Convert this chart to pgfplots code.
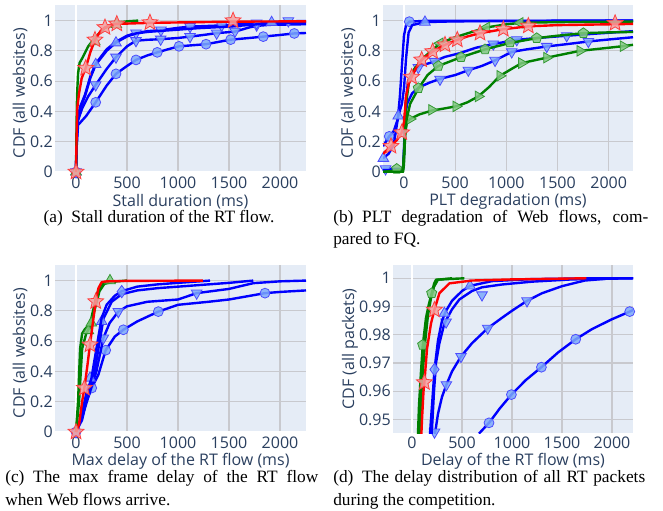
\documentclass[border=0pt]{standalone}
\usepackage{fontspec}
\setmainfont{Liberation Serif}
\newfontfamily\osans{Open Sans}
\usepackage{pgfplots}
\pgfplotsset{compat=1.18}
\usetikzlibrary{plotmarks}

\definecolor{plotbg}{RGB}{229,236,246}
\definecolor{gridc}{RGB}{200,201,206}
\definecolor{txt}{RGB}{42,63,95}
\definecolor{pblue}{RGB}{0,0,255}
\definecolor{pred}{RGB}{255,0,0}
\definecolor{pgreen}{RGB}{0,128,0}
\definecolor{bfill}{RGB}{125,170,250}
\definecolor{rfill}{RGB}{245,160,160}
\definecolor{gfill}{RGB}{130,200,130}

% filled five-point star
\pgfdeclareplotmark{pstar}{%
  \pgfpathmoveto{\pgfpointpolar{90}{1.3\pgfplotmarksize}}%
  \pgfpathlineto{\pgfpointpolar{126}{0.58\pgfplotmarksize}}%
  \pgfpathlineto{\pgfpointpolar{162}{1.3\pgfplotmarksize}}%
  \pgfpathlineto{\pgfpointpolar{198}{0.58\pgfplotmarksize}}%
  \pgfpathlineto{\pgfpointpolar{234}{1.3\pgfplotmarksize}}%
  \pgfpathlineto{\pgfpointpolar{270}{0.58\pgfplotmarksize}}%
  \pgfpathlineto{\pgfpointpolar{306}{1.3\pgfplotmarksize}}%
  \pgfpathlineto{\pgfpointpolar{342}{0.58\pgfplotmarksize}}%
  \pgfpathlineto{\pgfpointpolar{18}{1.3\pgfplotmarksize}}%
  \pgfpathlineto{\pgfpointpolar{54}{0.58\pgfplotmarksize}}%
  \pgfpathclose\pgfusepathqfillstroke}

\pgfplotsset{
  ply/.style={
    scale only axis, height=126pt,
    axis background/.style={fill=plotbg},
    axis line style={draw=none},
    tick style={draw=none},
    grid=major,
    major grid style={draw=gridc, line width=0.9pt},
    xtick={500,1000,1500,2000},
    extra x ticks={0},
    extra x tick style={grid=major, major grid style={draw=white, line width=1.6pt}},
    ticklabel style={font=\osans\fontsize{12}{12}\selectfont, text=txt},
    xticklabel style={anchor=north, inner sep=0pt, yshift=-3pt},
    yticklabel style={anchor=east, inner sep=0pt, xshift=-1.5pt},
    label style={font=\osans\fontsize{12}{14}\selectfont, text=txt},
    x label style={at={(axis description cs:0.5,-0.168)}, anchor=center},
    /pgf/number format/assume math mode=true,
    /pgf/number format/1000 sep={},
    clip mode=individual,
  },
  cdfy/.style={
    ymin=-0.007, ymax=1.103,
    ytick={0.2,0.4,0.6,0.8,1},
    extra y ticks={0},
    extra y tick style={grid=major, major grid style={draw=white, line width=1.6pt}},
  },
  lb/.style={color=pblue, line width=1.8pt, line join=round, no marks},
  lr/.style={color=pred, line width=1.8pt, line join=round, no marks},
  lg/.style={color=pgreen, line width=1.8pt, line join=round, no marks},
  mb/.style={only marks, draw=pblue!70!white, fill=bfill, fill opacity=0.85, line width=0.6pt},
  mr/.style={only marks, draw=pred!75!white, fill=rfill, fill opacity=0.85, line width=0.6pt, mark=pstar, mark size=4.8pt},
  mg/.style={only marks, draw=pgreen!80!white, fill=gfill, fill opacity=0.85, line width=0.6pt},
  circ/.style={mark=*, mark size=3.7pt},
  tup/.style={mark=triangle*, mark size=4.6pt},
  tdn/.style={mark=triangle*, mark size=4.6pt, mark options={rotate=180}},
  tlf/.style={mark=triangle*, mark size=4.6pt, mark options={rotate=90}},
  trt/.style={mark=triangle*, mark size=4.6pt, mark options={rotate=-90}},
  dia/.style={mark=diamond*, mark size=4.6pt},
  pent/.style={mark=pentagon*, mark size=4pt},
}

\begin{document}
\begin{tikzpicture}
\path[use as bounding box] (0,0) rectangle (497.25pt,382.5pt);

% (a) stall duration
\begin{axis}[ply, cdfy, at={(41.25pt,252.75pt)}, anchor=south west, width=188.25pt,
  xmin=-206, xmax=2255,
  xlabel={Stall duration (ms)}, ylabel={CDF (all websites)},
  y label style={at={(axis description cs:-0.139,0.476)}, anchor=center}]
\addplot[lb] coordinates {(0,0) (5,0.15) (20,0.31) (100,0.37) (193,0.46) (300,0.57) (392,0.648) (500,0.7) (588,0.74) (700,0.77) (797,0.79) (900,0.81) (1010,0.83) (1275,0.844) (1516,0.874) (1700,0.885) (1836,0.894) (2000,0.905) (2140,0.915) (2255,0.918)};
\addplot[mb, circ] coordinates {(0,0) (193,0.46) (392,0.648) (588,0.74) (797,0.79) (1010,0.83) (1275,0.844) (1516,0.874) (1836,0.894) (2140,0.915)};
\addplot[lb] coordinates {(0,0) (5,0.15) (15,0.33) (60,0.42) (120,0.5) (193,0.575) (300,0.68) (392,0.758) (500,0.83) (588,0.867) (700,0.873) (830,0.877) (1000,0.885) (1118,0.894) (1250,0.905) (1379,0.917) (1559,0.927) (1700,0.955) (1771,0.965) (1900,0.972) (2255,0.976)};
\addplot[mb, tdn] coordinates {(0,0) (193,0.575) (392,0.758) (588,0.867) (830,0.877) (1118,0.894) (1379,0.917) (1559,0.93) (1771,0.97)};
\addplot[lb] coordinates {(0,0) (5,0.2) (15,0.34) (40,0.43) (88,0.51) (140,0.63) (193,0.715) (300,0.81) (392,0.86) (500,0.9) (588,0.918) (700,0.93) (833,0.937) (1000,0.952) (1118,0.96) (1428,0.968) (1600,0.975) (1771,0.983) (1918,0.99) (2082,0.995) (2255,0.997)};
\addplot[mb, tdn] coordinates {(588,0.918) (833,0.937) (1118,0.96) (1428,0.968) (1771,0.983) (2082,0.998)};
\addplot[lb] coordinates {(0,0) (5,0.2) (15,0.33) (40,0.42) (88,0.5) (140,0.62) (193,0.708) (300,0.8) (392,0.855) (500,0.895) (588,0.915) (700,0.925) (833,0.932) (1000,0.94) (1200,0.95) (1500,0.96) (1770,0.975) (1918,0.985) (2255,0.987)};
\addplot[mb, tup] coordinates {(0,0) (193,0.71) (392,0.853) (1918,0.988)};
\addplot[lg] coordinates {(0,0) (5,0.3) (10,0.5) (20,0.65) (35,0.72) (60,0.75) (120,0.83) (190,0.89) (280,0.95) (400,0.985) (500,0.995) (610,1.0)};
\addplot[mg, tup] coordinates {(0,0) (185,0.86) (395,0.975)};
\addplot[lr] coordinates {(0,0) (5,0.2) (12,0.42) (30,0.52) (56,0.62) (95,0.686) (140,0.79) (186,0.873) (240,0.93) (284,0.955) (340,0.972) (400,0.978) (725,0.985) (1540,0.993) (2255,0.995)};
\addplot[mr] coordinates {(0,0) (95,0.686) (186,0.873) (284,0.955) (400,0.978) (725,0.987) (1540,1.0)};
\end{axis}

% (b) PLT degradation
\begin{axis}[ply, cdfy, at={(287.25pt,252.75pt)}, anchor=south west, width=187.5pt,
  xmin=-205, xmax=2238,
  xlabel={PLT degradation (ms)}, ylabel={CDF (all websites)},
  y label style={at={(axis description cs:-0.14,0.476)}, anchor=center}]
\addplot[lb] coordinates {(-205,0.17) (-144,0.235) (-100,0.27) (-60,0.35) (-40,0.5) (-20,0.7) (0,0.9) (20,0.97) (52,0.993) (200,0.998) (2238,1.0)};
\addplot[mb, circ] coordinates {(-144,0.235) (52,0.993)};
\addplot[lb] coordinates {(-205,0.09) (-150,0.12) (-100,0.18) (-56,0.37) (-20,0.45) (0,0.55) (20,0.75) (45,0.92) (80,0.97) (205,0.99) (500,0.995) (2238,1.0)};
\addplot[mb, tup] coordinates {(-202,0.09) (-56,0.37) (205,0.99)};
\addplot[lb] coordinates {(-205,0.02) (-10,0.02) (0,0.1) (10,0.35) (30,0.45) (80,0.52) (150,0.56) (250,0.59) (352,0.615) (500,0.64) (629,0.672) (760,0.7) (890,0.737) (1053,0.793) (1200,0.81) (1395,0.829) (1600,0.845) (1802,0.862) (2000,0.875) (2238,0.89)};
\addplot[mb, tdn] coordinates {(-180,0.02) (352,0.612) (629,0.672) (890,0.737) (1053,0.793) (1395,0.829) (1802,0.862)};
\addplot[lb] coordinates {(-205,0.01) (-10,0.01) (0,0.15) (15,0.45) (40,0.6) (80,0.65) (150,0.7) (254,0.72) (400,0.76) (547,0.785) (700,0.82) (873,0.845) (1102,0.873) (1300,0.885) (1590,0.9) (1900,0.915) (2238,0.93)};
\addplot[mb, tdn] coordinates {(140,0.69) (300,0.73) (873,0.845) (1102,0.873) (1590,0.9)};
\addplot[lg] coordinates {(-205,0) (-10,0) (0,0.05) (10,0.25) (30,0.33) (59,0.35) (150,0.38) (271,0.405) (400,0.42) (520,0.435) (620,0.46) (726,0.499) (830,0.56) (938,0.635) (1050,0.68) (1150,0.719) (1395,0.755) (1720,0.8) (2143,0.831) (2238,0.84)};
\addplot[mg, trt] coordinates {(59,0.35) (271,0.41) (508,0.433) (726,0.499) (938,0.635) (1150,0.719) (1395,0.755) (1720,0.8) (2143,0.831)};
\addplot[lg] coordinates {(-205,0) (-71,0.01) (-10,0.02) (5,0.15) (20,0.33) (60,0.45) (140,0.55) (230,0.64) (335,0.7) (450,0.73) (557,0.758) (680,0.785) (792,0.81) (1036,0.852) (1297,0.884) (1500,0.9) (1753,0.917) (2000,0.922) (2238,0.925)};
\addplot[mg, pent] coordinates {(-71,0.02) (140,0.554) (335,0.7) (557,0.758) (792,0.81) (1036,0.855) (1297,0.884) (1753,0.917)};
\addplot[lg] coordinates {(-205,0) (-10,0) (5,0.2) (20,0.45) (50,0.6) (100,0.68) (200,0.76) (352,0.85) (500,0.89) (678,0.928) (808,0.955) (1000,0.975) (1134,0.985) (1500,0.99) (2238,0.993)};
\addplot[mg, tlf] coordinates {(352,0.85) (808,0.955) (1134,0.985)};
\addplot[lr] coordinates {(-205,0.12) (-127,0.17) (-70,0.21) (-22,0.26) (0,0.33) (20,0.5) (45,0.58) (75,0.627) (120,0.69) (173,0.741) (280,0.796) (401,0.84) (521,0.873) (620,0.895) (743,0.917) (971,0.943) (1215,0.962) (1500,0.97) (2063,0.976) (2238,0.978)};
\addplot[mr] coordinates {(-127,0.17) (-22,0.26) (75,0.627) (173,0.741) (280,0.796) (401,0.84) (521,0.873) (743,0.917) (971,0.943) (1215,0.965) (2063,0.983)};
\end{axis}

% (c) max frame delay
\begin{axis}[ply, cdfy, at={(41.25pt,57.75pt)}, anchor=south west, width=188.25pt,
  xmin=-206, xmax=2255,
  xlabel={Max delay of the RT flow (ms)}, ylabel={CDF (all websites)},
  y label style={at={(axis description cs:-0.139,0.476)}, anchor=center}]
\addplot[lb] coordinates {(0,0) (60,0.08) (100,0.2) (154,0.29) (220,0.38) (291,0.54) (380,0.63) (464,0.675) (600,0.73) (807,0.795) (1000,0.84) (1300,0.86) (1500,0.875) (1853,0.917) (2000,0.925) (2255,0.935)};
\addplot[mb, circ] coordinates {(0,0) (154,0.29) (291,0.54) (464,0.675) (807,0.795) (1853,0.917)};
\addplot[lb] coordinates {(0,0) (60,0.1) (130,0.25) (200,0.4) (268,0.62) (330,0.72) (415,0.795) (500,0.83) (700,0.86) (900,0.87) (1000,0.875) (1183,0.917) (1500,0.945) (1738,0.983) (2000,0.995) (2255,1.0)};
\addplot[mb, tdn] coordinates {(268,0.62) (415,0.795) (1183,0.917)};
\addplot[lb] coordinates {(0,0) (60,0.1) (120,0.25) (170,0.35) (220,0.55) (270,0.75) (350,0.86) (448,0.91) (600,0.935) (800,0.95) (1000,0.96) (1200,0.97) (1500,0.985) (1738,1.0)};
\addplot[mb, tup] coordinates {(137,0.356) (252,0.73)};
\addplot[lb] coordinates {(0,0) (50,0.1) (100,0.25) (150,0.35) (200,0.55) (250,0.75) (300,0.84) (380,0.9) (448,0.93) (600,0.96) (800,0.975) (1000,0.985) (1314,1.0)};
\addplot[mb, dia] coordinates {(0,0) (448,0.927)};
\addplot[lg] coordinates {(0,0) (30,0.2) (60,0.55) (100,0.65) (140,0.7) (180,0.8) (230,0.93) (280,0.98) (400,0.995) (500,1.0)};
\addplot[lg] coordinates {(0,0) (20,0.2) (40,0.55) (60,0.65) (88,0.68) (120,0.7) (150,0.75) (200,0.9) (240,0.97) (300,0.985) (340,1.0)};
\addplot[mg, tup] coordinates {(121,0.67) (150,0.72) (333,1.0)};
\addplot[lr] coordinates {(0,0) (30,0.05) (60,0.2) (82,0.29) (110,0.43) (137,0.576) (165,0.72) (193,0.862) (220,0.95) (252,0.99) (300,0.995) (500,0.998) (1245,1.0)};
\addplot[mr] coordinates {(0,0) (82,0.29) (137,0.576) (193,0.862)};
\end{axis}

% (d) delay of all RT packets
\begin{axis}[ply, at={(294.75pt,57.75pt)}, anchor=south west, width=180pt,
  xmin=-190, xmax=2210, ymin=0.9452, ymax=1.0047,
  ytick={0.95,0.96,0.97,0.98,0.99,1},
  xlabel={Delay of the RT flow (ms)}, ylabel={CDF (all packets)},
  y label style={at={(axis description cs:-0.179,0.5)}, anchor=center}]
\addplot[lb] coordinates {(670,0.945) (770,0.9488) (880,0.954) (994,0.9588) (1140,0.964) (1294,0.9685) (1460,0.9737) (1637,0.9784) (1800,0.982) (2000,0.9855) (2177,0.9882) (2214,0.9888)};
\addplot[mb, circ] coordinates {(770,0.9488) (994,0.9588) (1294,0.9685) (1637,0.9784) (2177,0.9882)};
\addplot[lb] coordinates {(210,0.94) (230,0.945) (260,0.952) (300,0.958) (344,0.9623) (400,0.967) (490,0.9723) (600,0.977) (757,0.9823) (900,0.986) (1000,0.9885) (1150,0.992) (1300,0.9947) (1500,0.9972) (1727,0.9992) (2000,1.0) (2214,1.0)};
\addplot[mb, tdn] coordinates {(225,0.9455) (344,0.9623) (490,0.9723) (757,0.9823) (1150,0.992)};
\addplot[lb] coordinates {(190,0.94) (205,0.95) (220,0.96) (240,0.97) (274,0.977) (324,0.984) (400,0.989) (474,0.9925) (600,0.9955) (700,0.9968) (900,0.9978) (1200,0.9988) (1600,0.9996) (2214,1.0)};
\addplot[mb, tdn] coordinates {(341,0.9845) (700,0.9941)};
\addplot[lb] coordinates {(170,0.94) (190,0.95) (210,0.96) (225,0.9677) (260,0.978) (300,0.985) (341,0.9885) (400,0.992) (500,0.9955) (580,0.9973) (800,0.999) (1200,0.9997) (1844,1.0) (2214,1.0)};
\addplot[mb, dia] coordinates {(225,0.9677)};
\addplot[mb, tup] coordinates {(324,0.9876) (580,0.9973)};
\addplot[lg] coordinates {(55,0.94) (70,0.955) (90,0.967) (107,0.976) (140,0.986) (170,0.991) (197,0.9947) (220,0.998) (240,0.9995) (524,1.0)};
\addplot[lg] coordinates {(70,0.94) (90,0.956) (110,0.968) (130,0.977) (160,0.987) (190,0.993) (220,0.997) (260,0.9995) (400,1.0)};
\addplot[mg, pent] coordinates {(107,0.9764) (197,0.9947)};
\addplot[lr] coordinates {(88,0.94) (100,0.95) (115,0.96) (124,0.9631) (150,0.975) (190,0.984) (224,0.9888) (274,0.9947) (374,0.9982) (600,0.9992) (1000,0.9996) (1744,1.0)};
\addplot[mr] coordinates {(124,0.9631) (224,0.9888)};
\end{axis}

% captions
\begin{scope}[every node/.style={inner sep=0pt, font=\fontsize{13}{15}\selectfont}]
\node[anchor=base] at (119.25pt,215.5pt) {(a)\enspace Stall duration of the RT flow.};
\node[anchor=base west] at (249.75pt,215.5pt) {\makebox[236.25pt][s]{(b)\enspace PLT degradation of Web flows, com-}};
\node[anchor=base west] at (249.75pt,199pt) {pared to FQ.};
\node[anchor=base west] at (3.75pt,20.5pt) {\makebox[234.75pt][s]{(c)\enspace The max frame delay of the RT flow}};
\node[anchor=base west] at (3.75pt,3.25pt) {when Web flows arrive.};
\node[anchor=base west] at (249.75pt,20.5pt) {\makebox[234pt][s]{(d)\enspace The delay distribution of all RT packets}};
\node[anchor=base west] at (249.75pt,3.25pt) {during the competition.};
\end{scope}
\end{tikzpicture}
\end{document}
